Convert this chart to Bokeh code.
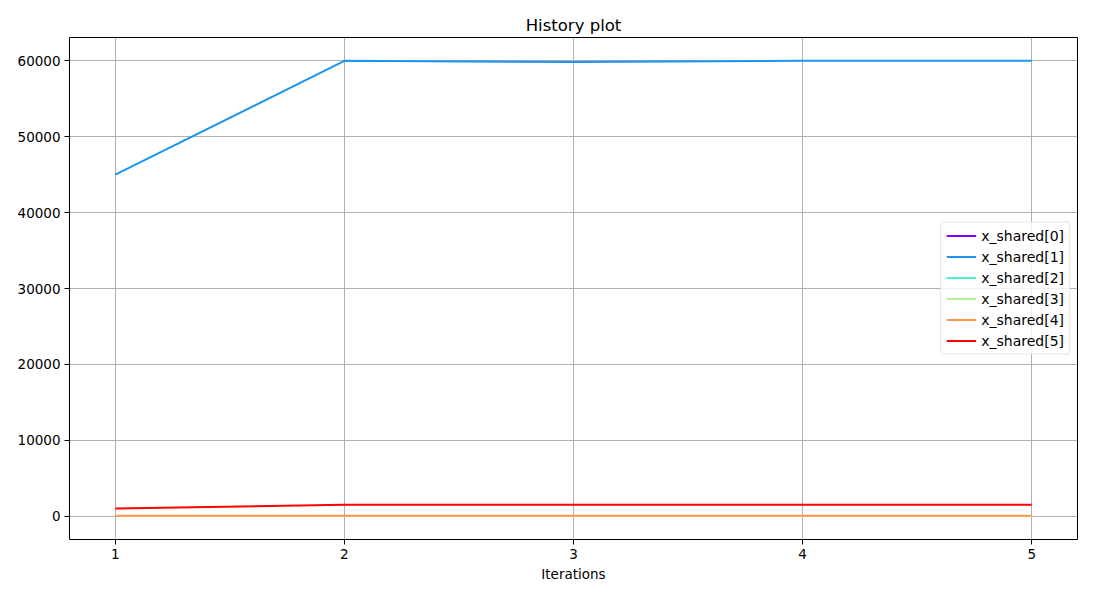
from bokeh.plotting import figure
from bokeh.models import Legend, LegendItem, Range1d, FixedTicker
from bokeh.embed import file_html
from bokeh.resources import INLINE

iterations = [1, 2, 3, 4, 5]
x_shared_0 = [1.0, 1.0, 1.0, 1.0, 1.0]
x_shared_1 = [45000, 60000, 59850, 60000, 60000]
x_shared_2 = [1.0, 1.0, 1.0, 1.0, 1.0]
x_shared_3 = [5.0, 5.0, 5.0, 5.0, 5.0]
x_shared_4 = [50, 50, 50, 50, 50]
x_shared_5 = [1000, 1500, 1500, 1500, 1500]
series = [x_shared_0, x_shared_1, x_shared_2, x_shared_3, x_shared_4, x_shared_5]
names = ["x_shared[0]", "x_shared[1]", "x_shared[2]", "x_shared[3]", "x_shared[4]", "x_shared[5]"]
colors = ["#8000ff", "#1996f3", "#4df3ce", "#b2f396", "#ff964f", "#ff0000"]
y_ticks = [0, 10000, 20000, 30000, 40000, 50000, 60000]

FONT = "DejaVu Sans"

p = figure(width=1084, height=584, output_backend="svg", toolbar_location=None,
           x_range=Range1d(0.8, 5.2), y_range=Range1d(-3080, 63080),
           min_border_left=69, min_border_right=7, min_border_top=37, min_border_bottom=42)

p.title.text = "History plot"
p.title.align = "center"
p.title.text_font = FONT
p.title.text_font_size = "16.5px"
p.title.text_font_style = "normal"
p.title.text_color = "black"
p.title.standoff = 6

p.outline_line_color = "black"
p.outline_line_width = 1
p.outline_line_alpha = 1

for ax in (p.xaxis[0], p.yaxis[0]):
    ax.axis_line_color = None
    ax.major_tick_line_color = "black"
    ax.major_tick_out = 5
    ax.major_tick_in = 0
    ax.minor_tick_line_color = None
    ax.major_label_text_font = FONT
    ax.major_label_text_font_size = "13.5px"
    ax.major_label_text_color = "black"

p.xaxis.ticker = FixedTicker(ticks=iterations)
p.yaxis.ticker = FixedTicker(ticks=y_ticks)
p.yaxis.major_label_standoff = 4
p.xaxis.major_label_standoff = 4
p.xaxis.axis_label = "Iterations"
p.xaxis.axis_label_text_font = FONT
p.xaxis.axis_label_text_font_size = "13.5px"
p.xaxis.axis_label_text_font_style = "normal"
p.xaxis.axis_label_text_color = "black"
p.xaxis.axis_label_standoff = 4

p.grid.grid_line_color = "#b0b0b0"
p.grid.grid_line_width = 1

items = []
for s, n, c in zip(series, names, colors):
    r = p.line(iterations, s, line_color=c, line_width=2)
    items.append(LegendItem(label=n, renderers=[r]))

legend = Legend(items=items, location="right")
legend.label_text_font = FONT
legend.label_text_font_size = "14px"
legend.label_text_color = "black"
legend.label_height = 16
legend.glyph_height = 16
legend.glyph_width = 30
legend.spacing = 5
legend.padding = 5
legend.margin = 7
legend.border_line_color = "#cccccc"
legend.border_radius = 3
legend.background_fill_alpha = 0.8
p.add_layout(legend)

open("out.html", "w").write(file_html(p, INLINE))
